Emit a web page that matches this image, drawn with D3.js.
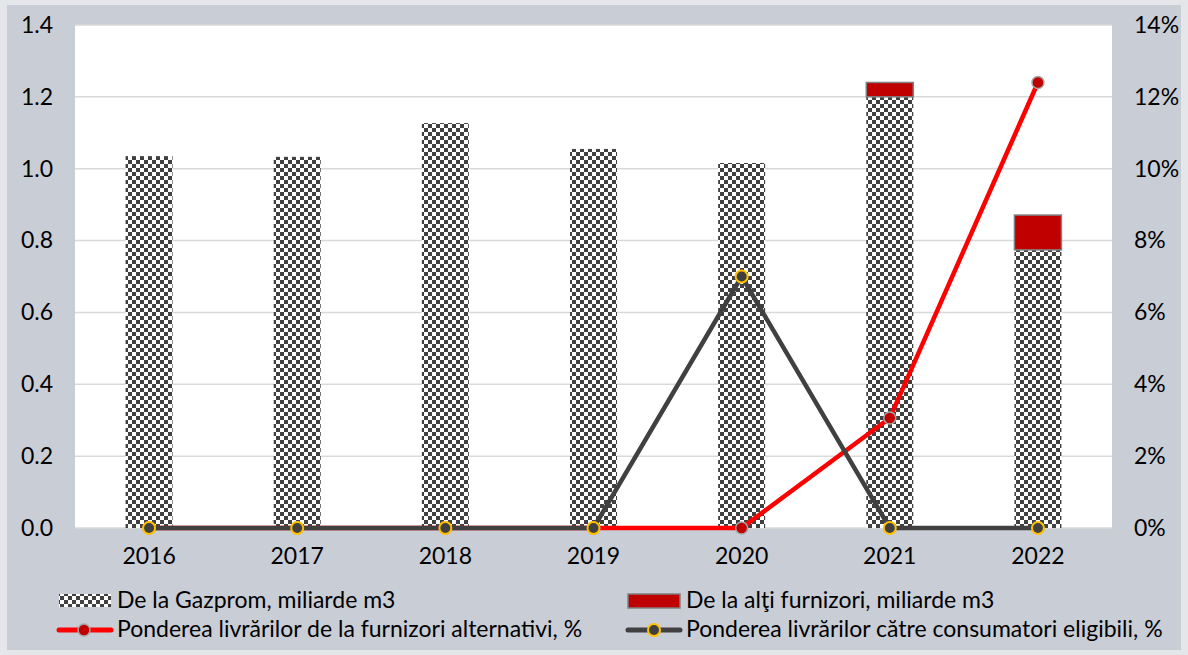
<!DOCTYPE html>
<html>
<head>
<meta charset="utf-8">
<script src="https://cdn.jsdelivr.net/npm/d3@7"></script>
<style>
  html, body { margin: 0; padding: 0; background: #e4e6ea; }
  svg { display: block; font-family: Lato, "Open Sans", sans-serif; }
</style>
</head>
<body>
<svg id="chart" width="1188" height="655"></svg>
<script>
const years = ["2016", "2017", "2018", "2019", "2020", "2021", "2022"];
const gazprom = [1.035, 1.033, 1.127, 1.055, 1.016, 1.2, 0.774];
const otherSuppliers = [0, 0, 0, 0, 0, 0.04, 0.097];
const shareAlternative = [0, 0, 0, 0, 0, 3.06, 12.4];
const shareEligible = [0, 0, 0, 0, 7, 0, 0];
const leftTicks = [0, 0.2, 0.4, 0.6, 0.8, 1.0, 1.2, 1.4];
const rightTicks = [0, 2, 4, 6, 8, 10, 12, 14];

const svg = d3.select("#chart");
const plot = { left: 75, right: 1112, top: 25, bottom: 528 };
const fontSize = 23;

// outer panel
svg.append("rect").attr("x", 7).attr("y", 5).attr("width", 1174).attr("height", 645).attr("fill", "#c9cdd6");
svg.append("rect").attr("x", plot.left).attr("y", plot.top)
  .attr("width", plot.right - plot.left).attr("height", plot.bottom - plot.top).attr("fill", "#fff");

// checker pattern
const defs = svg.append("defs");
const pat = defs.append("pattern").attr("id", "checker").attr("patternUnits", "userSpaceOnUse")
  .attr("width", 8).attr("height", 8);
pat.append("rect").attr("width", 8).attr("height", 8).attr("fill", "#fff");
pat.append("rect").attr("width", 4).attr("height", 4).attr("fill", "#404040");
pat.append("rect").attr("x", 4).attr("y", 4).attr("width", 4).attr("height", 4).attr("fill", "#404040");

const x = d3.scaleBand().domain(years).range([plot.left, plot.right]).paddingInner(0).paddingOuter(0);
const y = d3.scaleLinear().domain([0, 1.4]).range([plot.bottom, plot.top]);
const y2 = d3.scaleLinear().domain([0, 14]).range([plot.bottom, plot.top]);
const barW = 47;
const cx = d => x(d) + x.bandwidth() / 2;

// gridlines
svg.append("g").selectAll("line").data(leftTicks).join("line")
  .attr("x1", plot.left).attr("x2", plot.right)
  .attr("y1", d => y(d)).attr("y2", d => y(d))
  .attr("stroke", "#d9d9d9").attr("stroke-width", 1.5);

function styleAxis(g) {
  g.select(".domain").remove();
  g.selectAll("text").attr("font-size", fontSize).attr("fill", "#000").attr("font-family", "Lato, sans-serif");
}

// left axis
svg.append("g").attr("transform", `translate(${plot.left},0)`)
  .call(d3.axisLeft(y).tickValues(leftTicks).tickFormat(d3.format(".1f")).tickSize(0).tickPadding(22))
  .call(styleAxis);

// right axis
svg.append("g").attr("transform", `translate(${plot.right},0)`)
  .call(d3.axisRight(y2).tickValues(rightTicks).tickFormat(d => d + "%").tickSize(0).tickPadding(22))
  .call(styleAxis);

// x axis
svg.append("g").attr("transform", `translate(0,${plot.bottom})`)
  .call(d3.axisBottom(x).tickSize(0).tickPadding(20))
  .call(styleAxis);

// bars
svg.append("g").selectAll("rect").data(years).join("rect")
  .attr("x", d => cx(d) - barW / 2).attr("width", barW)
  .attr("y", (d, i) => y(gazprom[i])).attr("height", (d, i) => y(0) - y(gazprom[i]))
  .attr("fill", "url(#checker)");
svg.append("g").selectAll("rect").data(years.filter((d, i) => otherSuppliers[i] > 0)).join("rect")
  .attr("x", d => cx(d) - barW / 2).attr("width", barW)
  .attr("y", d => { const i = years.indexOf(d); return y(gazprom[i] + otherSuppliers[i]); })
  .attr("height", d => { const i = years.indexOf(d); return y(gazprom[i]) - y(gazprom[i] + otherSuppliers[i]); })
  .attr("fill", "#c00000").attr("stroke", "#808080").attr("stroke-width", 1.5);

// lines
const line = d3.line().x((d, i) => cx(years[i])).y(d => y2(d));
svg.append("path").datum(shareAlternative).attr("d", line)
  .attr("fill", "none").attr("stroke", "#ff0000").attr("stroke-width", 4.5).attr("stroke-linejoin", "round");
svg.append("g").selectAll("circle").data(shareAlternative).join("circle")
  .attr("cx", (d, i) => cx(years[i])).attr("cy", d => y2(d)).attr("r", 6)
  .attr("fill", "#c00000").attr("stroke", "#a6a6a6").attr("stroke-width", 1.5);

svg.append("path").datum(shareEligible).attr("d", line)
  .attr("fill", "none").attr("stroke", "#404040").attr("stroke-width", 4.5).attr("stroke-linejoin", "round");
svg.append("g").selectAll("circle").data(shareEligible).join("circle")
  .attr("cx", (d, i) => cx(years[i])).attr("cy", d => y2(d)).attr("r", 6)
  .attr("fill", "#404040").attr("stroke", "#ffc000").attr("stroke-width", 2);

// legend
const leg = svg.append("g").attr("font-size", fontSize).attr("fill", "#000");
leg.append("rect").attr("x", 59).attr("y", 594).attr("width", 52).attr("height", 13).attr("fill", "url(#checker)");
leg.append("text").attr("x", 117).attr("y", 608).text("De la Gazprom, miliarde m3");
leg.append("rect").attr("x", 628).attr("y", 594).attr("width", 52).attr("height", 14)
  .attr("fill", "#c00000").attr("stroke", "#808080").attr("stroke-width", 1.5);
leg.append("text").attr("x", 686).attr("y", 608).text("De la alţi furnizori, miliarde m3");

leg.append("line").attr("x1", 59).attr("x2", 111).attr("y1", 630).attr("y2", 630)
  .attr("stroke", "#ff0000").attr("stroke-width", 5).attr("stroke-linecap", "round");
leg.append("circle").attr("cx", 84).attr("cy", 630).attr("r", 6)
  .attr("fill", "#c00000").attr("stroke", "#a6a6a6").attr("stroke-width", 1.5);
leg.append("text").attr("x", 117).attr("y", 637).text("Ponderea livrărilor de la furnizori alternativi, %");

leg.append("line").attr("x1", 628).attr("x2", 680).attr("y1", 630).attr("y2", 630)
  .attr("stroke", "#404040").attr("stroke-width", 5).attr("stroke-linecap", "round");
leg.append("circle").attr("cx", 654).attr("cy", 630).attr("r", 6)
  .attr("fill", "#404040").attr("stroke", "#ffc000").attr("stroke-width", 2);
leg.append("text").attr("x", 686).attr("y", 637).text("Ponderea livrărilor către consumatori eligibili, %");
</script>
</body>
</html>
